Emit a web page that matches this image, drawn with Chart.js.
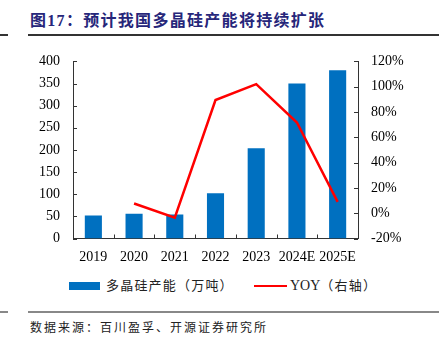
<!DOCTYPE html>
<html>
<head>
<meta charset="utf-8">
<script src="https://cdn.jsdelivr.net/npm/chart.js@4"></script>
<style>
  html, body { margin:0; padding:0; background:#fff; }
  body { width:439px; height:347px; position:relative; overflow:hidden; font-family:"Liberation Serif","Noto Sans CJK SC",serif; }
  #title { position:absolute; left:30px; top:11px; font-size:16px; font-weight:bold; color:#26267a; letter-spacing:1.3px; white-space:nowrap; line-height:20px; }
  .hline { position:absolute; height:2px; }
  #wrap { position:absolute; left:0; top:40px; width:439px; height:230px; }
  #legend { position:absolute; top:277px; left:0; width:439px; height:18px; font-size:13px; color:#222; }
  .lg { position:absolute; white-space:nowrap; line-height:18px; letter-spacing:1.2px; }
  #source { position:absolute; left:30px; top:319px; font-size:12px; letter-spacing:2px; color:#222; white-space:nowrap; line-height:18px; }
</style>
</head>
<body>
<div id="title">图17：预计我国多晶硅产能将持续扩张</div>
<div class="hline" style="left:0;width:8px;top:34px;background:#333;"></div>
<div class="hline" style="left:28px;width:411px;top:34px;background:#333;"></div>
<div id="wrap"><canvas id="c"></canvas></div>
<div id="legend">
  <div style="position:absolute;left:69px;top:5px;width:31px;height:8px;background:#0070C0;"></div>
  <div class="lg" style="left:106px;top:0;">多晶硅产能（万吨）</div>
  <div style="position:absolute;left:254px;top:8px;width:33px;height:2px;background:#FF0000;"></div>
  <div class="lg" style="left:290px;top:0;"><span style="letter-spacing:0;font-size:14px;">YOY</span>（右轴）</div>
</div>
<div class="hline" style="left:0;width:8px;top:311px;background:#888;"></div>
<div class="hline" style="left:28px;width:411px;top:311px;background:#888;"></div>
<div id="source">数据来源：百川盈孚、开源证券研究所</div>
<script>
const categories = ["2019", "2020", "2021", "2022", "2023", "2024E", "2025E"];
const capacity = [52, 56, 54, 102, 204, 350, 380];
const yoy = [null, 7.7, -3.6, 89.5, 102, 71.7, 9];
const leftTicks = [0, 50, 100, 150, 200, 250, 300, 350, 400];
const rightTicks = [-20, 0, 20, 40, 60, 80, 100, 120];

const axisColor = '#333';
const tickFont = { family: 'Liberation Serif', size: 14 };

const innerTicks = {
  id: 'innerTicks',
  afterDraw(chart) {
    const ctx = chart.ctx;
    const len = 4;
    ctx.save();
    ctx.strokeStyle = axisColor;
    ctx.lineWidth = 1;
    const y = chart.scales.y, y1 = chart.scales.y1, x = chart.scales.x;
    ctx.beginPath();
    y.ticks.forEach((t, i) => {
      const p = Math.round(y.getPixelForTick(i)) + 0.5;
      ctx.moveTo(y.right, p); ctx.lineTo(y.right + len, p);
    });
    y1.ticks.forEach((t, i) => {
      const p = Math.round(y1.getPixelForTick(i)) + 0.5;
      ctx.moveTo(y1.left, p); ctx.lineTo(y1.left - len, p);
    });
    const n = categories.length;
    for (let i = 1; i < n; i++) {
      const px = Math.round((x.getPixelForValue(i - 1) + x.getPixelForValue(i)) / 2) + 0.5;
      ctx.moveTo(px, x.top); ctx.lineTo(px, x.top - len);
    }
    ctx.stroke();
    ctx.restore();
  }
};

new Chart(document.getElementById('c'), {
  data: {
    labels: categories,
    datasets: [
      {
        type: 'line', label: 'YOY（右轴）', data: yoy, yAxisID: 'y1',
        borderColor: '#FF0000', borderWidth: 2.5, pointRadius: 0, tension: 0,
        spanGaps: false, order: 0
      },
      {
        type: 'bar', label: '多晶硅产能（万吨）', data: capacity, yAxisID: 'y',
        backgroundColor: '#0070C0', barPercentage: 0.42, categoryPercentage: 1, order: 1
      }
    ]
  },
  options: {
    responsive: true, maintainAspectRatio: false, animation: false,
    devicePixelRatio: 1,
    layout: { padding: { top: 16, left: 0, right: 0, bottom: 0 } },
    plugins: { legend: { display: false }, tooltip: { enabled: false } },
    scales: {
      x: {
        offset: true,
        grid: { display: false, drawTicks: false },
        border: { display: true, color: axisColor, width: 1 },
        ticks: { color: '#000', font: tickFont, padding: 10, maxRotation: 0, autoSkip: false },
        afterFit(s) { s.height = 31.5; }
      },
      y: {
        position: 'left', min: 0, max: 400,
        afterBuildTicks(s) { s.ticks = leftTicks.map(v => ({ value: v })); },
        grid: { display: false, drawTicks: false },
        border: { display: true, color: axisColor, width: 1 },
        ticks: { color: '#000', font: tickFont, padding: 13 },
        afterFit(s) { s.width = 73; }
      },
      y1: {
        position: 'right', min: -20, max: 120,
        afterBuildTicks(s) { s.ticks = rightTicks.map(v => ({ value: v })); },
        grid: { display: false, drawTicks: false },
        border: { display: true, color: axisColor, width: 1 },
        ticks: { color: '#000', font: tickFont, padding: 13, callback: v => v + '%' },
        afterFit(s) { s.width = 81; }
      }
    }
  },
  plugins: [innerTicks]
});
</script>
</body>
</html>
